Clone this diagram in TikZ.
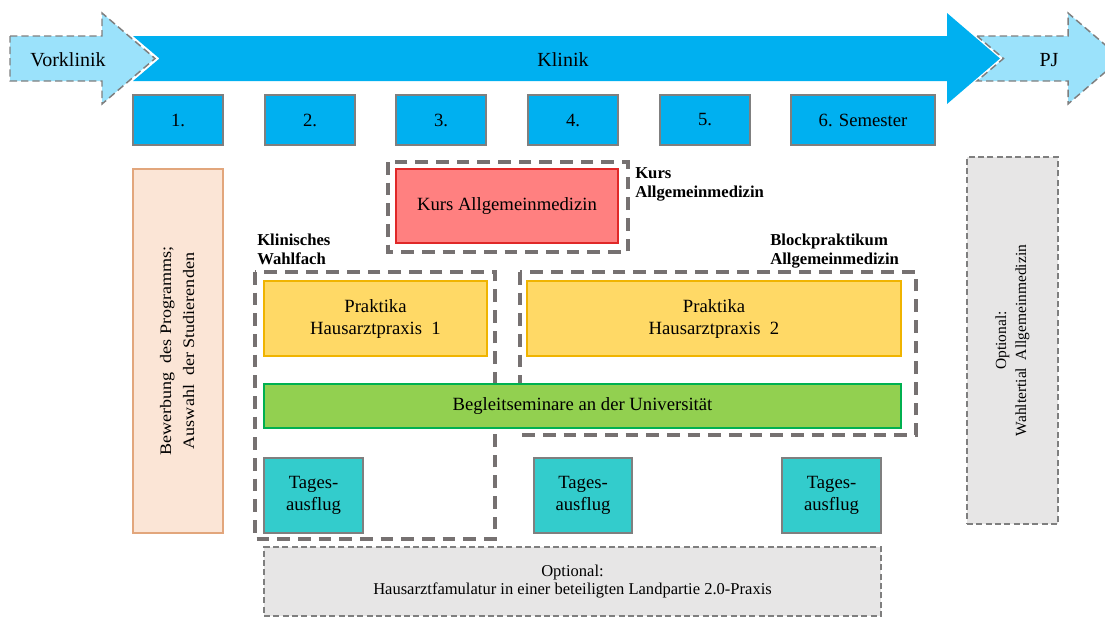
\documentclass[tikz,border=0pt]{standalone}
\usepackage{fontspec}
\setmainfont{Liberation Serif}
\definecolor{klinik}{HTML}{00B0F0}
\definecolor{lightc}{HTML}{9BE2FB}
\definecolor{bgray}{HTML}{7F7F7F}
\definecolor{fgray}{HTML}{767171}
\definecolor{peach}{HTML}{FBE5D6}
\definecolor{peachb}{HTML}{E2A67C}
\definecolor{redf}{HTML}{FF8080}
\definecolor{redb}{HTML}{E02828}
\definecolor{yelf}{HTML}{FFD966}
\definecolor{yelb}{HTML}{F0B400}
\definecolor{grnf}{HTML}{92D050}
\definecolor{grnb}{HTML}{00B050}
\definecolor{teal}{HTML}{33CCCC}
\definecolor{optg}{HTML}{E7E6E6}
\begin{document}
\begin{tikzpicture}[x=0.75pt,y=-0.75pt,
  every node/.style={inner sep=0pt, align=center, font=\fontsize{14}{16.5}\selectfont},
  semb/.style={draw=bgray, line width=0.9pt, fill=klinik, minimum width=67.5pt, minimum height=37.5pt},
  frm/.style={draw=fgray, line width=2.5pt, dash pattern=on 9.5pt off 6pt},
  optb/.style={draw=bgray, line width=0.8pt, fill=optg, dash pattern=on 4.5pt off 2.5pt},
  arrl/.style={fill=lightc, draw=bgray, line width=1.1pt, dash pattern=on 5.5pt off 3pt},
  lbl/.style={anchor=north west, align=left, font=\bfseries\fontsize{12.5}{14.25}\selectfont},
  prak/.style={draw=yelb, line width=0.9pt, fill=yelf, minimum height=56.25pt},
  tag/.style={draw=bgray, line width=0.9pt, fill=teal, minimum height=56.25pt, font=\fontsize{14}{17}\selectfont},
]
\path[use as bounding box] (0,0) rectangle (1105,619);
\clip (0,0) rectangle (1105,619);

% arrows
\path[arrl] (10,36) -- (102,36) -- (102,13) -- (155,58.5) -- (102,104) -- (102,81) -- (10,81) -- cycle;
\fill[klinik] (133,36) -- (947,36) -- (947,13) -- (1000,58.5) -- (947,104) -- (947,81) -- (133,81) -- (159.5,58.5) -- cycle;
\path[arrl] (977,36) -- (1068,36) -- (1068,13) -- (1121,58.5) -- (1068,104) -- (1068,81) -- (977,81) -- (1003.5,58.5) -- cycle;
\node[font=\fontsize{15}{18}\selectfont] (vk) at (68,60) {Vorklinik};
\node[font=\fontsize{15}{18}\selectfont] (kl) at (563,60) {Klinik};
\node[font=\fontsize{15}{18}\selectfont] (pj) at (1049,60) {PJ};

% semesters
\node[semb] (s1) at (178,120) {1.};
\node[semb] (s2) at (310,120) {2.};
\node[semb] (s3) at (441,120) {3.};
\node[semb] (s4) at (573,120) {4.};
\node[semb] (s5) at (705,120) {5.};
\node[semb, minimum width=108pt] (s6) at (863,120) {6. Semester};

% frames
\draw[frm] (388,162) rectangle (628,252);
\draw[frm] (255,272) rectangle (495,539);
\draw[frm] (520,272) rectangle (916,435);
\node[lbl] (lk) at (635,167) {Kurs\\Allgemeinmedizin};
\node[lbl] (lw) at (257,234) {Klinisches\\Wahlfach};
\node[lbl] (lb) at (770,234) {Blockpraktikum\\Allgemeinmedizin};

% side boxes
\node[draw=peachb, line width=0.9pt, fill=peach, minimum width=67.5pt, minimum height=273pt] (bew) at (178,351) {};
\node[rotate=90, font=\fontsize{12}{17.25}\selectfont] (bewt) at (bew.center) {\scalebox{1.13}[1]{\begin{tabular}{@{}c@{}}Bewerbung\ \ des Programms;\\Auswahl\ \ der Studierenden\end{tabular}}};
\node[optb, minimum width=68.25pt, minimum height=275.25pt] (wt) at (1012.5,340.5) {};
\node[rotate=90, font=\fontsize{11.6}{15}\selectfont] (wtt) at (wt.center) {Optional:\\Wahltertial\ \ Allgemeinmedizin};

% content boxes
\node[draw=redb, line width=0.9pt, fill=redf, minimum width=166.5pt, minimum height=55.5pt] (kurs) at (507,206) {Kurs Allgemeinmedizin};
\node[prak, minimum width=167.25pt] (p1) at (375.5,318.5) {Praktika\\Hausarztpraxis\ \ 1};
\node[prak, minimum width=280.5pt] (p2) at (714,318.5) {Praktika\\Hausarztpraxis\ \ 2};
\node[draw=grnb, line width=0.9pt, fill=grnf, minimum width=477.75pt, minimum height=33pt] (bg) at (582.5,406) {Begleitseminare\ an der Universität};
\node[tag, minimum width=74.25pt] (t1) at (313.5,495.5) {Tages-\\ausflug};
\node[tag, minimum width=73.5pt] (t2) at (583,495.5) {Tages-\\ausflug};
\node[tag, minimum width=74.25pt] (t3) at (831.5,495.5) {Tages-\\ausflug};
\node[optb, minimum width=462.75pt, minimum height=51.75pt, font=\fontsize{12.4}{13.5}\selectfont] (fam) at (572.5,581.5) {Optional:\\Hausarztfamulatur in einer beteiligten Landpartie 2.0-Praxis};
\end{tikzpicture}
\end{document}
